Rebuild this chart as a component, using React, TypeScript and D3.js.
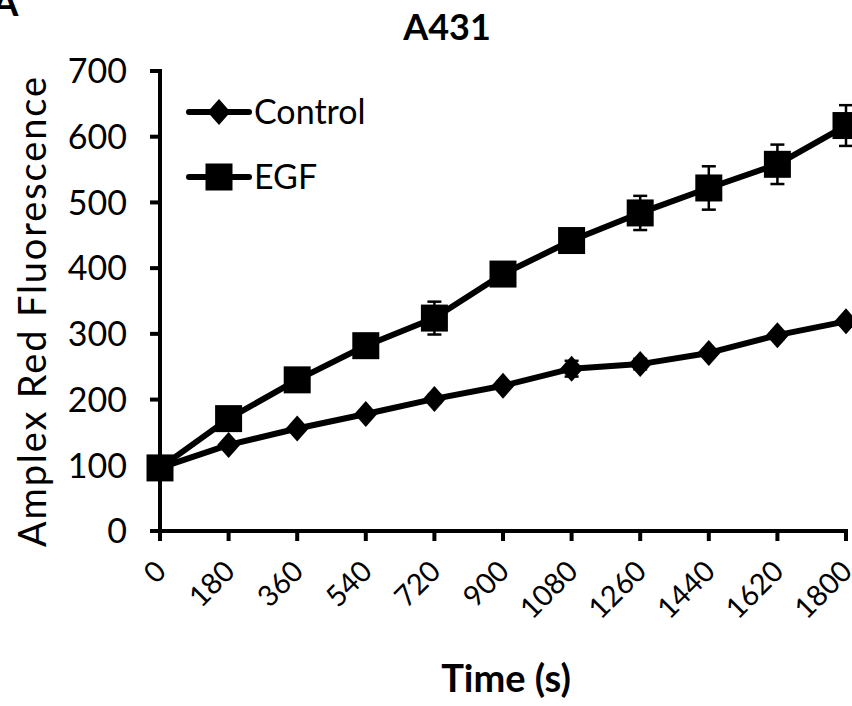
import { useRef, useEffect } from "react";
import * as d3 from "d3";

const times = [0, 180, 360, 540, 720, 900, 1080, 1260, 1440, 1620, 1800];
const controlValues = [96, 131, 156, 178, 201, 221, 247, 254, 271, 298, 319];
const controlErrors = [3, 5, 5, 5, 6, 6, 12, 8, 6, 6, 6];
const egfValues = [96, 171, 230, 282, 324, 391, 442, 484, 522, 558, 617];
const egfErrors = [3, 6, 6, 6, 25, 8, 9, 26, 33, 30, 31];
const yTicks = [0, 100, 200, 300, 400, 500, 600, 700];

const FONT = "Lato, 'Open Sans', sans-serif";

const App = () => {
  const svgRef = useRef<SVGSVGElement>(null);

  useEffect(() => {
    document.body.style.margin = "0";
    const svg = d3.select(svgRef.current);
    svg.selectAll("*").remove();

    const x = d3.scaleLinear().domain([0, 1800]).range([160, 846]);
    const y = d3.scaleLinear().domain([0, 700]).range([531, 71]);

    // panel letter, cut at the corner
    svg.append("text").attr("x", -8).attr("y", 16).text("A")
      .style("font-family", FONT).style("font-weight", "bold").style("font-size", "38px");

    svg.append("text").attr("x", 447).attr("y", 40).attr("text-anchor", "middle").text("A431")
      .style("font-family", FONT).style("font-weight", "bold").style("font-size", "36px");

    // y axis
    const ya = svg.append("g");
    ya.append("line").attr("x1", 160).attr("x2", 160).attr("y1", y(700) - 2).attr("y2", y(0) + 2)
      .attr("stroke", "#000").attr("stroke-width", 4);
    ya.selectAll(".yt").data(yTicks).enter().append("line")
      .attr("x1", 150).attr("x2", 160).attr("y1", (d) => y(d)).attr("y2", (d) => y(d))
      .attr("stroke", "#000").attr("stroke-width", 4);
    ya.selectAll(".yl").data(yTicks).enter().append("text")
      .attr("x", 127).attr("y", (d) => y(d)).attr("dy", "0.36em").attr("text-anchor", "end")
      .text((d) => d).style("font-family", FONT).style("font-size", "34px");

    // x axis
    const xa = svg.append("g");
    xa.append("line").attr("x1", 158).attr("x2", x(1800) + 2).attr("y1", 531).attr("y2", 531)
      .attr("stroke", "#000").attr("stroke-width", 4);
    xa.selectAll(".xt").data(times).enter().append("line")
      .attr("x1", (d) => x(d)).attr("x2", (d) => x(d)).attr("y1", 531).attr("y2", 541)
      .attr("stroke", "#000").attr("stroke-width", 4);
    xa.selectAll(".xl").data(times).enter().append("text")
      .attr("transform", (d) => `translate(${x(d) + 8},${573}) rotate(-45)`)
      .attr("text-anchor", "end")
      .text((d) => d).style("font-family", FONT).style("font-size", "29px");

    svg.append("text").attr("x", 506).attr("y", 692).attr("text-anchor", "middle").text("Time (s)")
      .style("font-family", FONT).style("font-weight", "bold").style("font-size", "38px");

    svg.append("text").attr("transform", `translate(46,312) rotate(-90)`).attr("text-anchor", "middle")
      .attr("textLength", 470).attr("lengthAdjust", "spacing")
      .text("Amplex Red Fluorescence").style("font-family", FONT).style("font-size", "38px");

    const series = [
      { name: "Control", values: controlValues, errors: controlErrors, shape: "diamond" },
      { name: "EGF", values: egfValues, errors: egfErrors, shape: "square" },
    ];

    const line = d3.line<number>().x((_, i) => x(times[i])).y((d) => y(d));
    const diamond = "M0,-13L11.5,0L0,13L-11.5,0Z";
    const square = "M-13.5,-13.5H13.5V13.5H-13.5Z";

    series.forEach((s) => {
      const g = svg.append("g");
      // error bars
      s.values.forEach((v, i) => {
        const cx = x(times[i]);
        const e = s.errors[i];
        g.append("line").attr("x1", cx).attr("x2", cx).attr("y1", y(v + e)).attr("y2", y(v - e))
          .attr("stroke", "#000").attr("stroke-width", 2.5);
        [v + e, v - e].forEach((yy) => {
          g.append("line").attr("x1", cx - 7).attr("x2", cx + 7).attr("y1", y(yy)).attr("y2", y(yy))
            .attr("stroke", "#000").attr("stroke-width", 2.5);
        });
      });
      g.append("path").datum(s.values).attr("d", line).attr("fill", "none")
        .attr("stroke", "#000").attr("stroke-width", 6).attr("stroke-linejoin", "round");
      g.selectAll(".m").data(s.values).enter().append("path")
        .attr("transform", (d, i) => `translate(${x(times[i])},${y(d)})`)
        .attr("d", s.shape === "diamond" ? diamond : square).attr("fill", "#000");
    });

    // legend
    const legend = [
      { name: "Control", shape: diamond, yy: 112 },
      { name: "EGF", shape: square, yy: 177 },
    ];
    legend.forEach((l) => {
      svg.append("line").attr("x1", 189).attr("x2", 249).attr("y1", l.yy).attr("y2", l.yy)
        .attr("stroke", "#000").attr("stroke-width", 6).attr("stroke-linecap", "round");
      svg.append("path").attr("transform", `translate(219,${l.yy})`).attr("d", l.shape).attr("fill", "#000");
      svg.append("text").attr("x", 254).attr("y", l.yy).attr("dy", "0.36em").text(l.name)
        .style("font-family", FONT).style("font-size", "34px");
    });
  }, []);

  return <svg ref={svgRef} width={852} height={706} style={{ display: "block", background: "#fff" }} />;
};

export default App;
